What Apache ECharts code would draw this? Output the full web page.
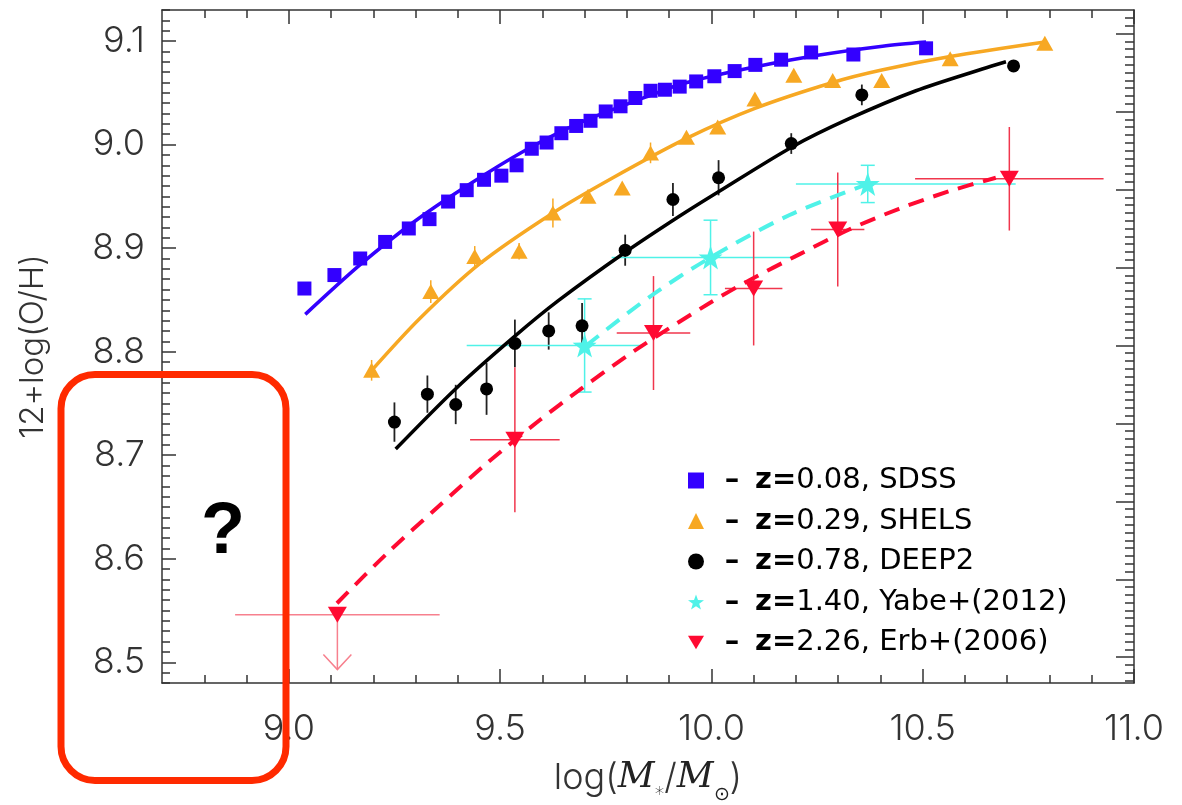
<!DOCTYPE html>
<html><head><meta charset="utf-8">
<script src="https://cdn.jsdelivr.net/npm/echarts@6/dist/echarts.min.js"></script>
<style>html,body{margin:0;padding:0;background:#fff}#c{width:1182px;height:805px}</style>
</head><body><div id="c"></div>
<script>
// ---------- tick labels ----------
const xMajorTicks = [9.0, 9.5, 10.0, 10.5, 11.0];
const xMinorTicks = [8.8, 8.9, 9.1, 9.2, 9.3, 9.4, 9.6, 9.7, 9.8, 9.9, 10.1, 10.2, 10.3, 10.4, 10.6, 10.7, 10.8, 10.9];
const yMajorTicks = [8.5, 8.6, 8.7, 8.8, 8.9, 9.0, 9.1];
const rightMajorTicks = [0, 1, 2, 3, 4, 5, 6, 7, 8];

// ---------- data ----------
const sdssMass = [9.037, 9.108, 9.169, 9.228, 9.284, 9.333, 9.377, 9.421, 9.462, 9.503, 9.539, 9.575, 9.610, 9.645, 9.680, 9.714, 9.750, 9.785, 9.820, 9.856, 9.890, 9.925, 9.964, 10.007, 10.055, 10.104, 10.165, 10.236, 10.336, 10.508];
const sdssOH   = [8.861, 8.874, 8.890, 8.906, 8.919, 8.928, 8.945, 8.956, 8.966, 8.970, 8.980, 8.996, 9.002, 9.011, 9.018, 9.023, 9.032, 9.037, 9.045, 9.052, 9.053, 9.056, 9.061, 9.066, 9.071, 9.077, 9.082, 9.089, 9.087, 9.093];
const sdssFitMass = [9.039, 9.169, 9.295, 9.421, 9.562, 9.688, 9.846, 9.933, 10.090, 10.248, 10.405, 10.508];
const sdssFitOH   = [8.836, 8.884, 8.925, 8.960, 8.995, 9.021, 9.046, 9.059, 9.074, 9.086, 9.095, 9.099];

const shelsMass = [9.196, 9.336, 9.440, 9.545, 9.625, 9.708, 9.789, 9.856, 9.941, 10.015, 10.103, 10.195, 10.287, 10.403, 10.565, 10.789];
const shelsOH   = [8.782, 8.858, 8.892, 8.897, 8.934, 8.950, 8.958, 8.992, 9.007, 9.017, 9.044, 9.067, 9.062, 9.062, 9.083, 9.098];
const shelsErr  = [0.010, 0.011, 0.010, 0.008, 0.014, 0.004, 0.004, 0.010, 0.004, 0.004, 0.004, 0.004, 0.004, 0.004, 0.004, 0.003];
const shelsFitMass = [9.192, 9.310, 9.452, 9.625, 9.767, 9.941, 10.103, 10.287, 10.403, 10.565, 10.789];
const shelsFitOH   = [8.780, 8.832, 8.885, 8.934, 8.968, 9.006, 9.035, 9.060, 9.072, 9.085, 9.099];

const deep2Mass = [9.250, 9.328, 9.395, 9.468, 9.535, 9.615, 9.694, 9.796, 9.909, 10.017, 10.189, 10.356, 10.715];
const deep2OH   = [8.732, 8.759, 8.749, 8.764, 8.808, 8.820, 8.825, 8.898, 8.947, 8.968, 9.001, 9.048, 9.076];
const deep2Err  = [0.019, 0.018, 0.019, 0.025, 0.023, 0.018, 0.022, 0.015, 0.016, 0.017, 0.010, 0.010, 0.002];
const deep2FitMass = [9.253, 9.397, 9.535, 9.637, 9.796, 9.925, 10.011, 10.192, 10.326, 10.484, 10.641, 10.697];
const deep2FitOH   = [8.706, 8.765, 8.815, 8.849, 8.896, 8.931, 8.953, 8.998, 9.025, 9.052, 9.073, 9.080];

const yabeMass   = [9.700, 9.998, 10.370];
const yabeOH     = [8.806, 8.891, 8.962];
const yabeMassLo = [9.421, 9.764, 10.200];
const yabeMassHi = [9.834, 10.200, 10.720];
const yabeErr    = [0.045, 0.036, 0.018];
const yabeFitMass = [9.704, 9.854, 9.998, 10.185, 10.370];
const yabeFitOH   = [8.806, 8.853, 8.891, 8.932, 8.962];

const erbMass    = [9.115, 9.535, 9.863, 10.100, 10.299, 10.705];
const erbOH      = [8.546, 8.715, 8.818, 8.861, 8.918, 8.967];
const erbMassErr = [0.242, 0.106, 0.087, 0.068, 0.063, 0.223];
const erbErr     = [0, 0.070, 0.055, 0.055, 0.055, 0.050];
const erbLimit   = [9.115, 8.546, 8.493]; // upper-limit arrow: x, from y, to y
const erbFitMass = [9.114, 9.232, 9.358, 9.468, 9.594, 9.688, 9.822, 9.996, 10.090, 10.208, 10.326, 10.444, 10.563, 10.673];
const erbFitOH   = [8.557, 8.605, 8.652, 8.692, 8.734, 8.763, 8.802, 8.847, 8.869, 8.894, 8.918, 8.938, 8.955, 8.968];

const names = ['z=0.08, SDSS', 'z=0.29, SHELS', 'z=0.78, DEEP2', 'z=1.40, Yabe+(2012)', 'z=2.26, Erb+(2006)'];

// ---------- helpers ----------
const zip = (a, b) => a.map((v, i) => [v, b[i]]);
const C = { blue: '#3300ff', orange: '#f7a823', black: '#000000', cyan: '#4ff2e8', red: '#ff0a32', redBar: '#f0364d', pink: '#f7808e' };
const FONT = 'Inter, "DejaVu Sans", sans-serif';
const LFONT = '"DejaVu Sans", sans-serif';
const starPath = 'path://M0,-10 L2.35,-3.24 9.51,-3.09 3.8,1.24 5.88,8.09 0,4 -5.88,8.09 -3.8,1.24 -9.51,-3.09 -2.35,-3.24 Z';
const invTriPath = 'path://M0,0 L20,0 L10,17 Z';

const yMinorTicks = []; for (let k = 848; k <= 913; k++) yMinorTicks.push(k / 100);
const rightMinorTicks = []; for (let k = -3; k <= 82; k++) if (k % 10 !== 0) rightMinorTicks.push(k / 10);

function errRows(xs, ys, xlo, xhi, ylo, yhi) { return xs.map((x, i) => [x, ys[i], xlo[i], xhi[i], ylo[i], yhi[i]]); }

function errorBars(rows, color, width, cap) {
  return {
    type: 'custom', silent: true, z: 2, data: rows,
    encode: { x: [0, 2, 3], y: [1, 4, 5] },
    renderItem(params, api) {
      const x = api.value(0), y = api.value(1);
      const xl = api.value(2), xh = api.value(3), yl = api.value(4), yh = api.value(5);
      const st = { stroke: color, lineWidth: width };
      const kids = [];
      if (yh > yl) {
        const a = api.coord([x, yl]), b = api.coord([x, yh]);
        kids.push({ type: 'line', shape: { x1: a[0], y1: a[1], x2: b[0], y2: b[1] }, style: st });
        if (cap) {
          kids.push({ type: 'line', shape: { x1: a[0] - cap, y1: a[1], x2: a[0] + cap, y2: a[1] }, style: st });
          kids.push({ type: 'line', shape: { x1: b[0] - cap, y1: b[1], x2: b[0] + cap, y2: b[1] }, style: st });
        }
      }
      if (xh > xl) {
        const a = api.coord([xl, y]), b = api.coord([xh, y]);
        kids.push({ type: 'line', shape: { x1: a[0], y1: a[1], x2: b[0], y2: b[1] }, style: st });
      }
      return { type: 'group', children: kids };
    }
  };
}

const shelsRows = errRows(shelsMass, shelsOH, shelsMass, shelsMass, shelsOH.map((v, i) => v - shelsErr[i]), shelsOH.map((v, i) => v + shelsErr[i]));
const deep2Rows = errRows(deep2Mass, deep2OH, deep2Mass, deep2Mass, deep2OH.map((v, i) => v - deep2Err[i]), deep2OH.map((v, i) => v + deep2Err[i]));
const yabeRows = errRows(yabeMass, yabeOH, yabeMassLo, yabeMassHi, yabeOH.map((v, i) => v - yabeErr[i]), yabeOH.map((v, i) => v + yabeErr[i]));
const erbRowsAll = errRows(erbMass, erbOH, erbMass.map((v, i) => v - erbMassErr[i]), erbMass.map((v, i) => v + erbMassErr[i]), erbOH.map((v, i) => v - erbErr[i]), erbOH.map((v, i) => v + erbErr[i]));

function fitLine(xs, ys, color, dashed) {
  return {
    type: 'line', data: zip(xs, ys), showSymbol: false, smooth: 0.3, silent: true, z: 3,
    lineStyle: { color, width: dashed ? 4 : 3.5, type: dashed ? [16, 10] : 'solid', cap: 'butt', opacity: 1 }
  };
}

const tickLabelStyle = { fontFamily: FONT, fontWeight: 300, fontSize: 36, color: '#333' };
const lineStyle = { color: '#333', width: 1.5 };
const baseX = { type: 'value', min: 8.7, max: 11.0, splitLine: { show: false } };
const baseY = { type: 'value', min: 8.48, max: 9.13, splitLine: { show: false } };

const chart = echarts.init(document.getElementById('c'), null, { renderer: 'canvas' });
chart.setOption({
  animation: false,
  backgroundColor: '#fff',
  grid: { left: 162, right: 48, top: 10, bottom: 122, outerBoundsMode: 'none', containLabel: false },
  xAxis: [
    { ...baseX, position: 'bottom', axisLine: { onZero: false, lineStyle },
      axisTick: { inside: true, length: 14, lineStyle, customValues: xMajorTicks },
      axisLabel: { customValues: xMajorTicks, formatter: v => v.toFixed(1), margin: 28, ...tickLabelStyle },
      name: 'log({i|M}{s|*}/{i|M}{s|⊙})', nameLocation: 'middle', nameGap: 74,
      nameTextStyle: { fontFamily: FONT, fontWeight: 300, fontSize: 36, color: '#333', lineHeight: 42,
        rich: { i: { fontFamily: 'DejaVu Serif', fontStyle: 'italic', fontSize: 36, color: '#222', lineHeight: 42 },
                s: { fontFamily: LFONT, fontSize: 19, color: '#222', verticalAlign: 'bottom', lineHeight: 42, padding: [0, 0, -6, 0] } } } },
    { ...baseX, position: 'bottom', axisLine: { show: false, onZero: false }, axisLabel: { show: false },
      axisTick: { inside: true, length: 8, lineStyle, customValues: xMinorTicks } },
    { ...baseX, position: 'top', axisLine: { onZero: false, lineStyle }, axisLabel: { show: false },
      axisTick: { inside: true, length: 14, lineStyle, customValues: xMajorTicks } },
    { ...baseX, position: 'top', axisLine: { show: false, onZero: false }, axisLabel: { show: false },
      axisTick: { inside: true, length: 8, lineStyle, customValues: xMinorTicks } }
  ],
  yAxis: [
    { ...baseY, position: 'left', axisLine: { onZero: false, lineStyle },
      axisTick: { inside: true, length: 14, lineStyle, customValues: yMajorTicks },
      axisLabel: { customValues: yMajorTicks, formatter: v => v.toFixed(1), margin: 17, ...tickLabelStyle },
      name: '12+log(O/H)', nameLocation: 'middle', nameGap: 112,
      nameTextStyle: { fontFamily: FONT, fontWeight: 300, fontSize: 33, color: '#333' } },
    { ...baseY, position: 'left', axisLine: { show: false, onZero: false }, axisLabel: { show: false },
      axisTick: { inside: true, length: 8, lineStyle, customValues: yMinorTicks } },
    { type: 'value', position: 'right', min: -0.331, max: 8.303, splitLine: { show: false }, axisLine: { onZero: false, lineStyle }, axisLabel: { show: false },
      axisTick: { inside: true, length: 18, lineStyle, customValues: rightMajorTicks } },
    { type: 'value', position: 'right', min: -0.331, max: 8.303, splitLine: { show: false }, axisLine: { show: false, onZero: false }, axisLabel: { show: false },
      axisTick: { inside: true, length: 9, lineStyle, customValues: rightMinorTicks } }
  ],
  legend: {
    orient: 'vertical', left: 683, top: 461, itemWidth: 16, itemHeight: 16, itemGap: 11.5,
    data: names,
    formatter: n => '{d|–}{b|z=}{n|' + n.slice(2) + '}',
    textStyle: { fontFamily: LFONT, fontSize: 29, color: '#000',
      rich: { d: { fontFamily: LFONT, fontWeight: 'bold', fontSize: 29, width: 46, align: 'center', lineHeight: 30 },
              b: { fontFamily: LFONT, fontWeight: 'bold', fontSize: 29, lineHeight: 30 },
              n: { fontFamily: LFONT, fontSize: 29, lineHeight: 30 } } }
  },
  graphic: [
    { type: 'rect', z: 100, shape: { x: 61, y: 374.5, width: 225, height: 406, r: 34 },
      style: { fill: 'none', stroke: '#ff2a00', lineWidth: 7 } },
    { type: 'text', z: 100, style: { text: '?', x: 223, y: 533, align: 'center', verticalAlign: 'middle',
      font: 'bold 72px "Liberation Sans"', fill: '#000' } }
  ],
  series: [
    errorBars(shelsRows, C.orange, 1.5, 0),
    errorBars(deep2Rows, '#222', 1.8, 0),
    errorBars(yabeRows, C.cyan, 1.5, 7),
    errorBars(erbRowsAll.slice(0, 1), C.pink, 1.5, 0),
    errorBars(erbRowsAll.slice(1), C.redBar, 1.5, 0),
    { type: 'custom', silent: true, z: 2, data: [erbLimit], encode: { x: 0, y: [1, 2] },
      renderItem(params, api) {
        const a = api.coord([api.value(0), api.value(1)]), b = api.coord([api.value(0), api.value(2)]);
        const st = { stroke: C.pink, lineWidth: 1.5, fill: 'none' };
        return { type: 'group', children: [
          { type: 'line', shape: { x1: a[0], y1: a[1], x2: b[0], y2: b[1] }, style: st },
          { type: 'polyline', shape: { points: [[b[0] - 14, b[1] - 15], [b[0], b[1]], [b[0] + 14, b[1] - 15]] }, style: st }
        ] };
      } },
    fitLine(sdssFitMass, sdssFitOH, C.blue, false),
    fitLine(shelsFitMass, shelsFitOH, C.orange, false),
    fitLine(deep2FitMass, deep2FitOH, C.black, false),
    fitLine(yabeFitMass, yabeFitOH, C.cyan, true),
    fitLine(erbFitMass, erbFitOH, C.red, true),
    { name: names[0], type: 'scatter', z: 5, symbol: 'rect', symbolSize: 14, data: zip(sdssMass, sdssOH), itemStyle: { color: C.blue, opacity: 1 } },
    { name: names[1], type: 'scatter', z: 5, symbol: 'triangle', symbolSize: [17, 15], data: zip(shelsMass, shelsOH), itemStyle: { color: C.orange, opacity: 1 } },
    { name: names[2], type: 'scatter', z: 5, symbol: 'circle', symbolSize: 13, data: zip(deep2Mass, deep2OH), itemStyle: { color: C.black, opacity: 1 } },
    { name: names[3], type: 'scatter', z: 5, symbol: starPath, symbolSize: 24, data: zip(yabeMass, yabeOH), itemStyle: { color: C.cyan, opacity: 1 } },
    { name: names[4], type: 'scatter', z: 5, symbol: invTriPath, symbolSize: [19, 16], data: zip(erbMass, erbOH), itemStyle: { color: C.red, opacity: 1 } }
  ]
});
</script>
</body></html>
